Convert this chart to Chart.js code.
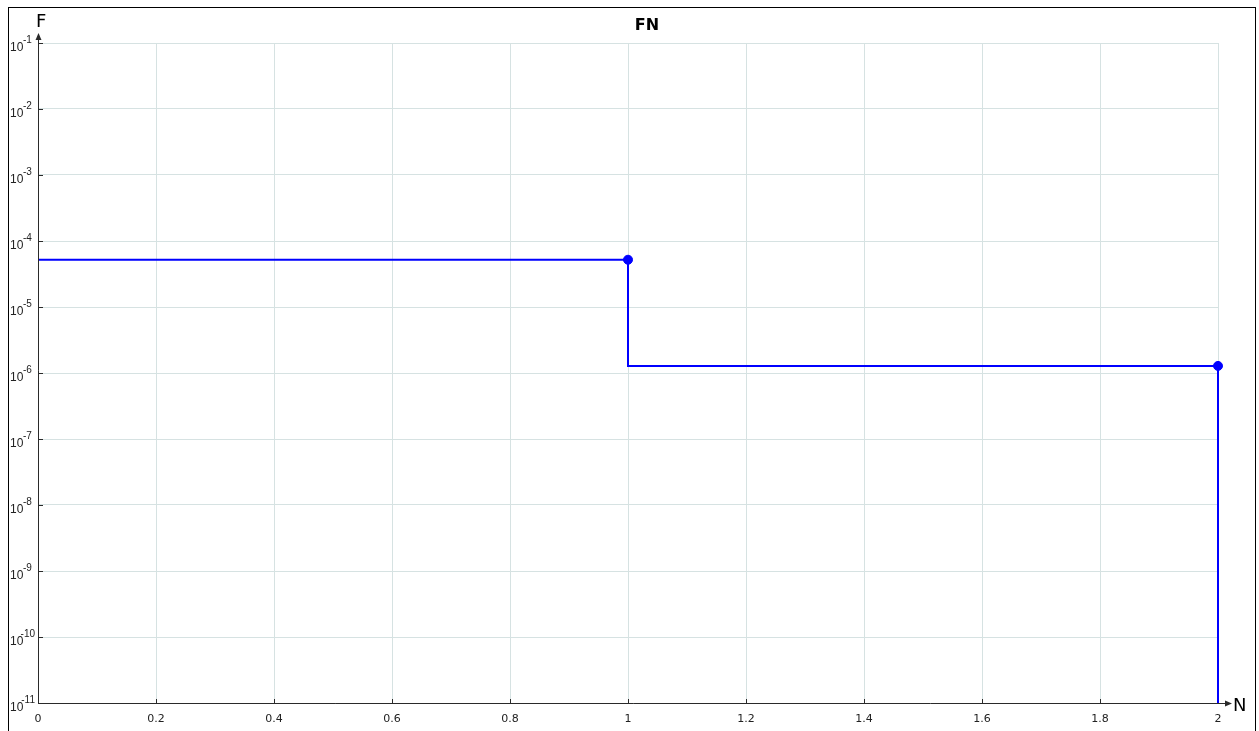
<!DOCTYPE html>
<html>
<head>
<meta charset="utf-8">
<script src="https://cdn.jsdelivr.net/npm/chart.js@4/dist/chart.umd.min.js"></script>
<style>
  html, body { margin: 0; padding: 0; background: #fff; overflow: hidden; }
  #wrap { width: 1259px; height: 731px; position: relative; }
  canvas { display: block; }
</style>
</head>
<body>
<div id="wrap"><canvas id="fn" width="1259" height="731"></canvas></div>
<script>
// Number of fatalities N and cumulative frequency F(N)
const fatalities = [1, 2];
const frequencies = [5.2e-5, 1.28e-6];

// Axis ranges and tick values
const xTicks = [0, 0.2, 0.4, 0.6, 0.8, 1, 1.2, 1.4, 1.6, 1.8, 2];
const yExponents = [-1, -2, -3, -4, -5, -6, -7, -8, -9, -10, -11];
const yFloor = 1e-11;
const chartTitle = 'FN';

// Step curve: holds F(N) from the previous N up to N, then drops at N
const stepPoints = [{ x: 0, y: frequencies[0] }];
fatalities.forEach((n, i) => {
  const next = i + 1 < frequencies.length ? frequencies[i + 1] : yFloor;
  stepPoints.push({ x: n, y: next });
});
const markerPoints = fatalities.map((n, i) => ({ x: n, y: frequencies[i] }));

const GRID = '#d6e2e2';
const AXIS = '#2a2a2a';
const LABEL = '#222222';

const decorations = {
  id: 'decorations',
  beforeDatasetsDraw(chart) {
    const { ctx, chartArea: a, scales: { x, y } } = chart;
    ctx.save();
    // inner tick marks
    ctx.strokeStyle = AXIS;
    ctx.lineWidth = 1;
    ctx.beginPath();
    xTicks.forEach(v => {
      const px = Math.round(x.getPixelForValue(v)) + 0.5;
      ctx.moveTo(px, a.bottom);
      ctx.lineTo(px, a.bottom - 4);
    });
    yExponents.forEach(e => {
      const py = Math.round(y.getPixelForValue(Math.pow(10, e))) + 0.5;
      ctx.moveTo(a.left, py);
      ctx.lineTo(a.left + 5, py);
    });
    ctx.stroke();
    ctx.restore();
  },
  afterDraw(chart) {
    const { ctx, chartArea: a, scales: { x, y } } = chart;
    ctx.save();
    // outer frame
    ctx.strokeStyle = '#000';
    ctx.lineWidth = 1;
    ctx.strokeRect(8.5, 7.5, 1247, 740);

    // axis lines with arrows
    ctx.strokeStyle = AXIS;
    ctx.fillStyle = AXIS;
    ctx.beginPath();
    ctx.moveTo(a.left + 0.5, a.bottom + 0.5);
    ctx.lineTo(a.left + 0.5, a.top - 6);
    ctx.moveTo(a.left + 0.5, a.bottom + 0.5);
    ctx.lineTo(a.right + 10, a.bottom + 0.5);
    ctx.stroke();
    ctx.beginPath();
    ctx.moveTo(a.left + 0.5, a.top - 10);
    ctx.lineTo(a.left - 2.5, a.top - 3);
    ctx.lineTo(a.left + 3.5, a.top - 3);
    ctx.closePath();
    ctx.fill();
    ctx.beginPath();
    ctx.moveTo(a.right + 14, a.bottom + 0.5);
    ctx.lineTo(a.right + 7, a.bottom - 2.5);
    ctx.lineTo(a.right + 7, a.bottom + 3.5);
    ctx.closePath();
    ctx.fill();

    // axis names
    ctx.fillStyle = '#000';
    ctx.font = '18px "DejaVu Sans", sans-serif';
    ctx.textBaseline = 'alphabetic';
    ctx.textAlign = 'left';
    ctx.fillText('F', a.left - 2, a.top - 16);
    ctx.fillText('N', a.right + 15, a.bottom + 8);

    // title
    ctx.font = 'bold 16px "DejaVu Sans", sans-serif';
    ctx.textAlign = 'center';
    ctx.fillText(chartTitle, 647, 30);

    // x tick labels
    ctx.fillStyle = LABEL;
    ctx.font = '11px "DejaVu Sans", sans-serif';
    ctx.textAlign = 'center';
    ctx.textBaseline = 'middle';
    xTicks.forEach(v => {
      ctx.fillText(String(v), x.getPixelForValue(v), a.bottom + 16);
    });

    // y tick labels: 10 with raised exponent
    ctx.textBaseline = 'alphabetic';
    ctx.textAlign = 'left';
    yExponents.forEach(e => {
      const py = Math.round(y.getPixelForValue(Math.pow(10, e)));
      ctx.font = '12px "Liberation Sans", sans-serif';
      ctx.fillText('10', 10, py + 8);
      ctx.font = '10px "Liberation Sans", sans-serif';
      const exp = String(e);
      const ew = ctx.measureText(exp).width;
      ctx.fillText(exp, Math.min(23, 35 - ew), py);
    });
    ctx.restore();
  }
};

new Chart(document.getElementById('fn'), {
  type: 'scatter',
  data: {
    datasets: [
      {
        type: 'line',
        data: stepPoints,
        stepped: true,
        borderColor: '#0000ff',
        borderWidth: 2,
        pointRadius: 0,
        fill: false,
        clip: false
      },
      {
        data: markerPoints,
        backgroundColor: '#0000ff',
        borderColor: '#0000ff',
        pointRadius: 4.5,
        clip: false
      }
    ]
  },
  plugins: [decorations],
  options: {
    responsive: false,
    maintainAspectRatio: false,
    animation: false,
    devicePixelRatio: 1,
    layout: { padding: { left: 38, top: 43, right: 41, bottom: 28 } },
    plugins: {
      legend: { display: false },
      title: { display: false },
      tooltip: { enabled: false }
    },
    scales: {
      x: {
        type: 'linear',
        min: 0,
        max: 2,
        afterBuildTicks(scale) { scale.ticks = xTicks.map(v => ({ value: v })); },
        ticks: { display: false },
        grid: { color: GRID, drawTicks: false, lineWidth: 1 },
        border: { display: false }
      },
      y: {
        type: 'logarithmic',
        min: yFloor,
        max: 1e-1,
        afterBuildTicks(scale) { scale.ticks = yExponents.map(e => ({ value: Math.pow(10, e) })); },
        ticks: { display: false },
        grid: { color: GRID, drawTicks: false, lineWidth: 1 },
        border: { display: false }
      }
    }
  }
});
</script>
</body>
</html>
